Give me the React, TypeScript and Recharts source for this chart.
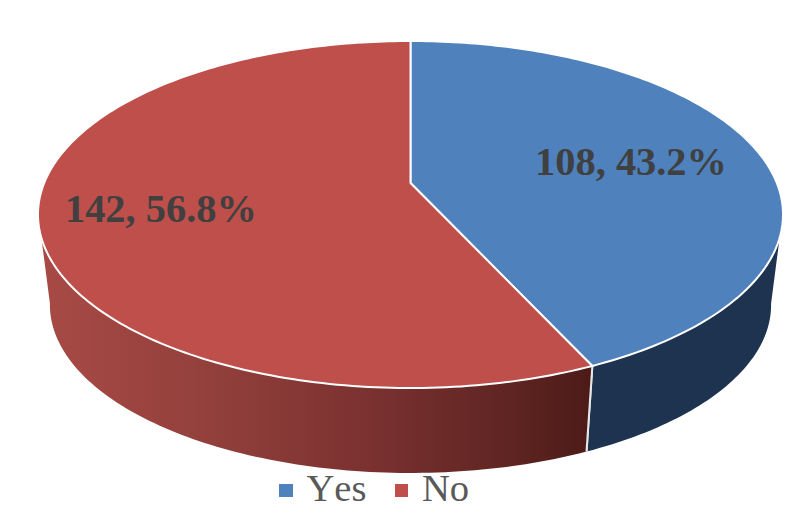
import React from "react";
import { PieChart, Pie, Cell, Legend } from "recharts";

const categories = ["Yes", "No"];
const counts = [108, 142];
const faceColors = ["#4f81bd", "#be4f4b"];
const sideFills = ["#1d334f", "url(#redSide)"];
const labelRadii = [0.631, 0.679];

const data = categories.map((name, i) => ({ name, value: counts[i] }));

const TILT = 0.1816;
const KX = 0.9834;
const KY = 0.4658;
const APEX = 0.0846;
const DEPTH = 90.5;
const BOTTOM_SCALE = 0.968;
const TOP_EDGE_LIMIT = [108, 252];
const BOTTOM_EDGE_LIMIT = [100, 260];

const project = (cx: number, cy: number, R: number, deg: number, r = 1) => {
  const t = (deg * Math.PI) / 180;
  const u = Math.sin(t) * r;
  const v = Math.cos(t) * r;
  const w = 1 + TILT * v;
  return {
    x: (R * KX * u) / w,
    y: (R * KY * v + R * APEX) / w,
    cx,
    cy,
  };
};

const onTop = (cx: number, cy: number, R: number, deg: number) => {
  const p = project(cx, cy, R, deg);
  return [cx + p.x, cy - p.y];
};
const onBottom = (cx: number, cy: number, R: number, deg: number) => {
  const p = project(cx, cy, R, deg);
  return [cx + p.x * BOTTOM_SCALE, cy + DEPTH - p.y * BOTTOM_SCALE];
};

const sweep = (from: number, to: number) => {
  const n = Math.max(2, Math.ceil(Math.abs(to - from)));
  const out: number[] = [];
  for (let i = 0; i <= n; i++) out.push(from + ((to - from) * i) / n);
  return out;
};

const toPath = (pts: number[][]) =>
  pts.map((p, i) => `${i ? "L" : "M"}${p[0].toFixed(2)} ${p[1].toFixed(2)}`).join(" ");

const Slice = (props: any) => {
  const { cx, cy, outerRadius: R, startAngle, endAngle, fill } = props;
  const a0 = 90 - startAngle;
  const a1 = 90 - endAngle;
  const idx = faceColors.indexOf(fill);
  const apex = [cx, cy - R * APEX];
  const face = [apex, ...sweep(a0, a1).map((d) => onTop(cx, cy, R, d))];

  const t0 = Math.max(a0, TOP_EDGE_LIMIT[0]);
  const t1 = Math.min(a1, TOP_EDGE_LIMIT[1]);
  const b0 = Math.max(a0, BOTTOM_EDGE_LIMIT[0]);
  const b1 = Math.min(a1, BOTTOM_EDGE_LIMIT[1]);
  const side = [
    ...sweep(t0, t1).map((d) => onTop(cx, cy, R, d)),
    ...sweep(b1, b0).map((d) => onBottom(cx, cy, R, d)),
  ];
  const cutAngle = a0 > 100 && a0 < 260 ? a0 : a1;
  const cutTop = onTop(cx, cy, R, cutAngle);
  const cutBottom = onBottom(cx, cy, R, cutAngle);

  return (
    <g>
      <defs>
        <linearGradient id="redSide" gradientUnits="userSpaceOnUse" x1={40} y1={0} x2={590} y2={0}>
          <stop offset="0" stopColor="#a84a45" />
          <stop offset="0.3" stopColor="#93403c" />
          <stop offset="0.6" stopColor="#7a3130" />
          <stop offset="0.85" stopColor="#5f2522" />
          <stop offset="1" stopColor="#4d1b17" />
        </linearGradient>
      </defs>
      <path d={toPath(side) + " Z"} fill={sideFills[idx]} />
      <line
        x1={cutTop[0]}
        y1={cutTop[1]}
        x2={cutBottom[0]}
        y2={cutBottom[1]}
        stroke="#e8e8e8"
        strokeWidth={2}
      />
      <path
        d={toPath(face) + " Z"}
        fill={fill}
        stroke="#ffffff"
        strokeWidth={2}
        strokeLinejoin="round"
      />
    </g>
  );
};

const renderLabel = (props: any) => {
  const { cx, cy, outerRadius: R, midAngle, value, percent, index } = props;
  const p = project(cx, cy, R, 90 - midAngle, labelRadii[index]);
  return (
    <text
      x={cx + p.x}
      y={cy - p.y + 14}
      textAnchor="middle"
      fontFamily="'Liberation Serif', serif"
      fontWeight="bold"
      fontSize={40.4}
      fill="#404040"
      style={{ fontKerning: "none" }}
    >
      {`${value}, ${(percent * 100).toFixed(1)}%`}
    </text>
  );
};

const renderLegend = () => (
  <div
    style={{
      display: "flex",
      alignItems: "center",
      fontFamily: "'Liberation Serif', serif",
      fontSize: 38.6,
      lineHeight: "44px",
      color: "#595959",
      fontKerning: "none",
    }}
  >
    {categories.map((name, i) => (
      <span key={name} style={{ display: "flex", alignItems: "center", marginRight: i === 0 ? 28 : 0 }}>
        <span
          style={{
            display: "inline-block",
            width: 13.5,
            height: 13,
            background: faceColors[i],
            marginRight: 14,
            marginTop: 4,
          }}
        />
        {name}
      </span>
    ))}
  </div>
);

export default function App() {
  return (
    <div style={{ position: "absolute", left: 0, top: 0, width: 800, height: 521, background: "#fff" }}>
      <PieChart width={800} height={521} margin={{ top: 0, right: 0, bottom: 0, left: 0 }}>
        <Pie
          data={data}
          dataKey="value"
          nameKey="name"
          cx={410.5}
          cy={214.5}
          outerRadius={372.5}
          startAngle={90}
          endAngle={-270}
          stroke="none"
          shape={Slice}
          label={renderLabel}
          labelLine={false}
          isAnimationActive={false}
        >
          {categories.map((name, i) => (
            <Cell key={name} fill={faceColors[i]} />
          ))}
        </Pie>
        <Legend
          content={renderLegend}
          wrapperStyle={{ position: "absolute", left: 279, top: 466, width: 220, bottom: "auto" }}
        />
      </PieChart>
    </div>
  );
}
